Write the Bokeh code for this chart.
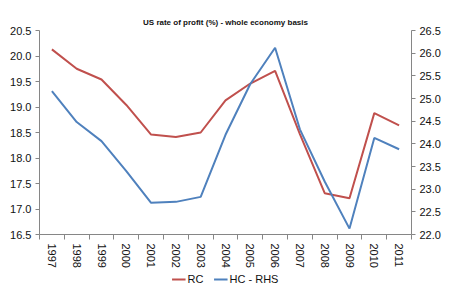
import math
from bokeh.plotting import figure
from bokeh.layouts import column
from bokeh.models import (ColumnDataSource, Range1d, LinearAxis, FixedTicker,
                          Legend, LegendItem)
from bokeh.embed import file_html
from bokeh.resources import INLINE

years = ["1997", "1998", "1999", "2000", "2001", "2002", "2003", "2004",
         "2005", "2006", "2007", "2008", "2009", "2010", "2011"]
rc = [20.13, 19.75, 19.54, 19.04, 18.46, 18.41, 18.50, 19.13,
      19.46, 19.71, 18.47, 17.31, 17.21, 18.88, 18.64]
hc = [25.16, 24.48, 24.06, 23.40, 22.70, 22.72, 22.83, 24.20,
      25.32, 26.12, 24.32, 23.17, 22.13, 24.13, 23.88]
left_ticks = [16.5, 17.0, 17.5, 18.0, 18.5, 19.0, 19.5, 20.0, 20.5]
right_ticks = [22.0, 22.5, 23.0, 23.5, 24.0, 24.5, 25.0, 25.5, 26.0, 26.5]

idx = list(range(len(years)))
src = ColumnDataSource(dict(x=idx, rc=rc, hc=hc))

FONT = "Liberation Sans"
AXIS_COLOR = "#868686"
RED = "#C0504D"
BLUE = "#4F81BD"
TXT = "#111111"

p = figure(width=449, height=270, output_backend="svg", toolbar_location=None,
           x_range=Range1d(-0.5, len(years) - 0.5),
           y_range=Range1d(16.5, 20.5),
           min_border_left=39, min_border_right=38, min_border_top=30,
           min_border_bottom=35)
p.extra_y_ranges = {"hc": Range1d(22.0, 26.5)}

p.title.text = "US rate of profit (%) - whole economy basis"
p.title.align = "center"
p.title.text_font = FONT
p.title.text_font_size = "8px"
p.title.text_font_style = "bold"
p.title.text_color = TXT
p.title.offset = 0
p.title.standoff = 8

p.outline_line_color = None
p.xgrid.grid_line_color = None
p.ygrid.grid_line_color = None
p.background_fill_color = "white"
p.border_fill_color = "white"

r1 = p.line("x", "rc", source=src, color=RED, line_width=2)
r2 = p.line("x", "hc", source=src, color=BLUE, line_width=2, y_range_name="hc")

# x axis
xa = p.xaxis[0]
xa.ticker = FixedTicker(ticks=idx, minor_ticks=[i - 0.5 for i in range(len(years) + 1)])
xa.major_label_overrides = {i: y for i, y in enumerate(years)}
xa.major_label_orientation = -math.pi / 2
xa.major_tick_out = 0
xa.major_tick_in = 0
xa.minor_tick_out = 5
xa.minor_tick_in = 0
xa.minor_tick_line_color = AXIS_COLOR
xa.axis_line_color = AXIS_COLOR
xa.major_label_text_font = FONT
xa.major_label_text_font_size = "11px"
xa.major_label_text_color = TXT
xa.major_label_standoff = 4

# left axis
ya = p.yaxis[0]
ya.ticker = FixedTicker(ticks=left_ticks)
ya.major_label_overrides = {t: f"{t:.1f}" for t in left_ticks}
ya.minor_tick_line_color = None
ya.major_tick_out = 4
ya.major_tick_in = 0
ya.axis_line_color = AXIS_COLOR
ya.major_tick_line_color = AXIS_COLOR
ya.major_label_text_font = FONT
ya.major_label_text_font_size = "11px"
ya.major_label_text_color = TXT
ya.major_label_standoff = 4

# right axis
ra = LinearAxis(y_range_name="hc", ticker=FixedTicker(ticks=right_ticks))
ra.major_label_overrides = {t: f"{t:.1f}" for t in right_ticks}
ra.minor_tick_line_color = None
ra.major_tick_out = 4
ra.major_tick_in = 0
ra.axis_line_color = AXIS_COLOR
ra.major_tick_line_color = AXIS_COLOR
ra.major_label_text_font = FONT
ra.major_label_text_font_size = "11px"
ra.major_label_text_color = TXT
ra.major_label_standoff = 4
p.add_layout(ra, "right")

# legend strip below the chart (same data, series kept out of view)
lg = figure(width=449, height=25, output_backend="svg", toolbar_location=None,
            x_range=Range1d(-200, -199), y_range=Range1d(0, 1),
            x_axis_location=None, y_axis_location=None,
            min_border=0, outline_line_color=None)
lg.xgrid.grid_line_color = None
lg.ygrid.grid_line_color = None
l1 = lg.line("x", "rc", source=src, color=RED, line_width=2)
l2 = lg.line("x", "hc", source=src, color=BLUE, line_width=2)

legend = Legend(items=[LegendItem(label="RC", renderers=[l1]),
                       LegendItem(label="HC - RHS", renderers=[l2])],
                orientation="horizontal", location="top_center",
                label_text_font=FONT, label_text_font_size="11px",
                label_text_color=TXT, label_height=12,
                glyph_width=14, glyph_height=10, label_standoff=2, spacing=6,
                padding=1, margin=3, border_line_color=None,
                background_fill_alpha=0)
lg.add_layout(legend, "center")

layout = column(p, lg, spacing=0)
open("out.html", "w").write(file_html(layout, INLINE))
